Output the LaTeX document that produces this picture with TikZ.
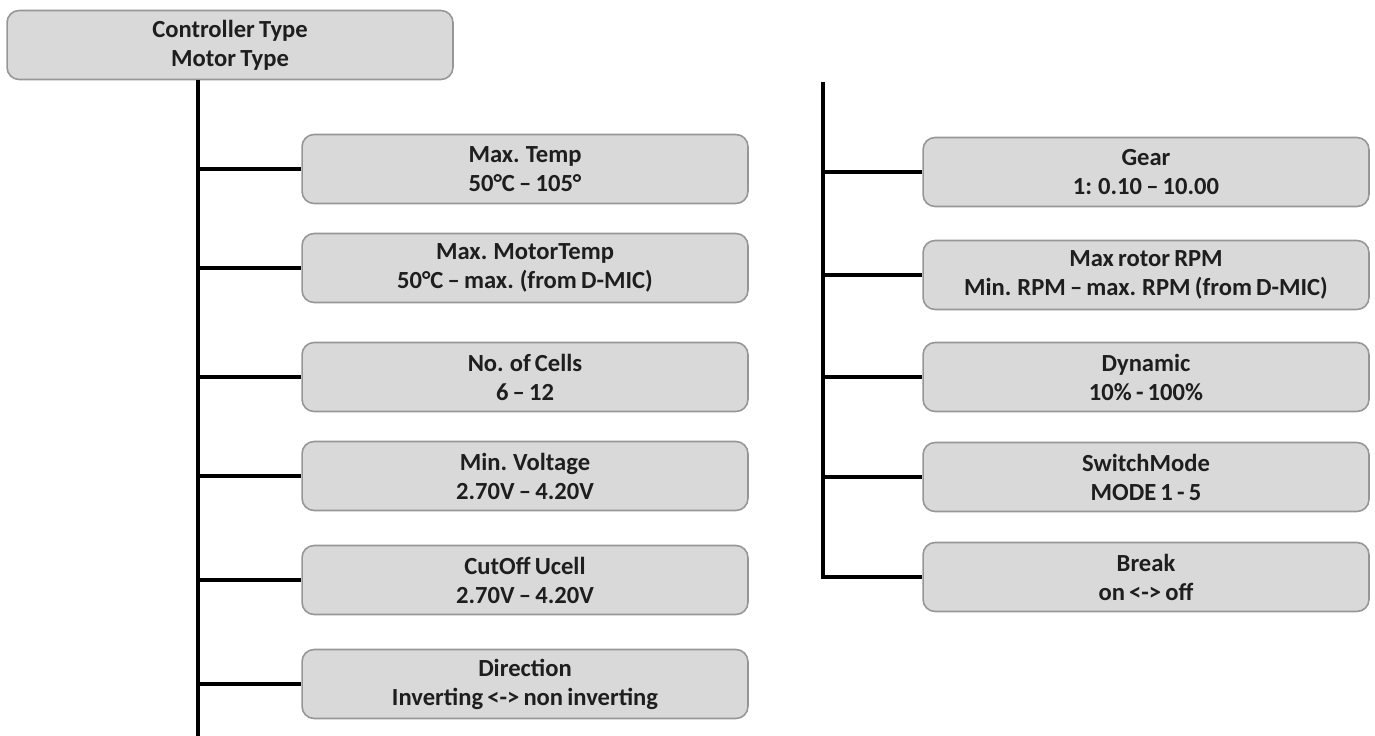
\documentclass[tikz,border=0pt]{standalone}
\usepackage{fontspec}
\setmainfont[WordSpace=0.75]{Carlito}
\usepackage{tikz}
\definecolor{boxfill}{RGB}{217,217,217}
\definecolor{boxline}{RGB}{150,150,150}
\definecolor{textdark}{RGB}{30,30,30}
\tikzset{
  menubox/.style={draw=boxline, line width=0.9pt, fill=boxfill, rounded corners=0.24cm,
    minimum width=8.92cm, minimum height=1.38cm, align=center, text=textdark,
    font=\fontsize{14}{16.5}\selectfont\bfseries, inner sep=0pt},
  tree/.style={line width=2.2pt, black}
}

\begin{document}
\begin{tikzpicture}[x=0.02cm, y=-0.02cm]
            \useasboundingbox (0,0) rectangle (1375,736);

            % Kopf
            \node[menubox] (head) at (230,45) {Controller Type\\Motor Type};

            % Linke Spalte
            \foreach \name/\y/\txt in {mtemp/169/{Max. Temp\\50°C – 105°},
                motemp/268/{Max. MotorTemp\\50°C – max. (from D-MIC)},
                cells/377/{No. of Cells\\6 – 12},
                minv/476/{Min. Voltage\\2.70V – 4.20V},
                cutoff/580/{CutOff Ucell\\2.70V – 4.20V},
                dir/684/{Direction\\Inverting <-> non inverting}} {
                \node[menubox] (\name) at (525,\y) {\txt};
            }

            % Rechte Spalte
            \foreach \name/\y/\txt in {gear/172/{Gear\\1: 0.10 – 10.00},
                rpm/275/{Max rotor RPM\\Min. RPM – max. RPM (from D-MIC)},
                dyn/377/{Dynamic\\10\% - 100\%},
                swmode/477/{SwitchMode\\MODE 1 - 5},
                brk/577/{Break\\on <-> off}} {
                \node[menubox] (\name) at (1146,\y) {\txt};
            }

            % Stamm links
            \coordinate (ltop) at (198,80);
            \coordinate (lbot) at (198,736);
            \draw[tree] (ltop) -- (lbot);
            \foreach \name in {mtemp, motemp, cells, minv, cutoff, dir} {
                \draw[tree] (ltop |- \name.west) -- (\name.west);
            }

            % Stamm rechts
            \coordinate (rtop) at (823,82);
            \draw[tree] (rtop) |- (brk.west);
            \foreach \name in {gear, rpm, dyn, swmode} {
                \draw[tree] (rtop |- \name.west) -- (\name.west);
            }
        \end{tikzpicture}
\end{document}
